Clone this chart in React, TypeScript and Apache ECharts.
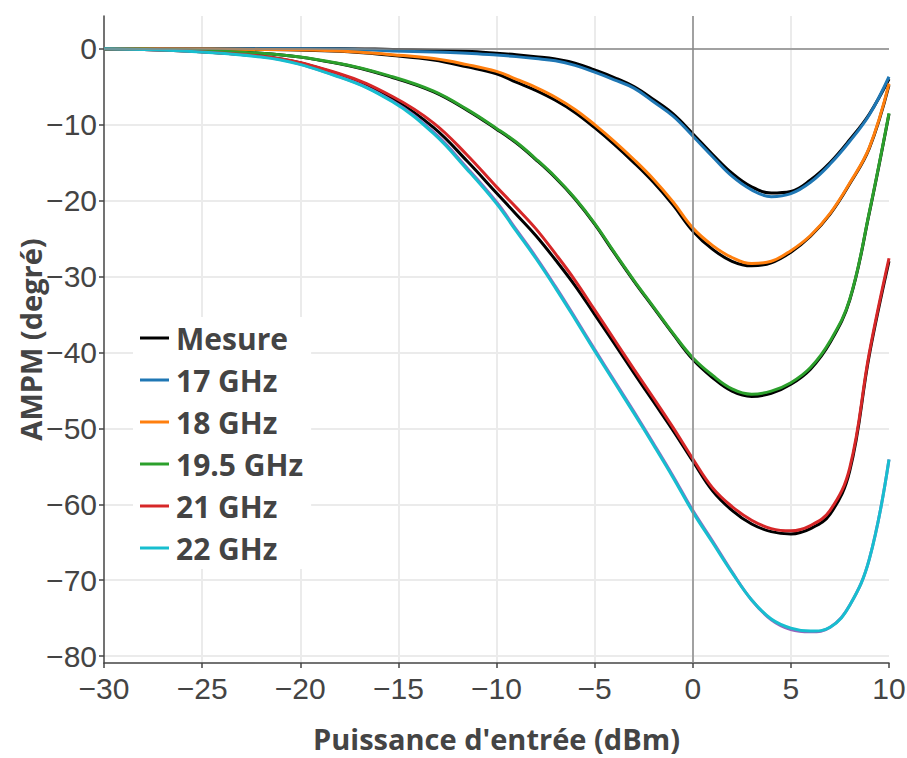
import React, { useEffect, useRef } from "react";
import * as echarts from "echarts";

const xValues = [-30, -22, -18, -15.3, -13.2, -11.5, -10, -9, -8, -7, -6, -5, -4, -3, -2, -1, 0, 1, 2, 3, 4, 5, 6, 7, 8, 9, 10];

const ghz17 = [0, 0, -0.05, -0.3, -0.45, -0.6, -0.85, -1.05, -1.3, -1.6, -2.2, -3.1, -4.1, -5.2, -7.0, -8.9, -11.5, -14.2, -16.8, -18.6, -19.5, -19.1, -17.6, -15.2, -12.2, -8.7, -3.7];
const ghz18 = [0, -0.1, -0.3, -0.8, -1.3, -2.1, -3.0, -4.0, -5.1, -6.4, -8.0, -10.0, -12.2, -14.6, -17.2, -20.2, -23.6, -25.9, -27.5, -28.3, -28.0, -26.6, -24.6, -21.7, -17.7, -13.0, -4.6];
const ghz195 = [0, -0.6, -1.95, -3.7, -5.6, -8.0, -10.5, -12.3, -14.5, -16.9, -19.7, -23.0, -26.8, -30.5, -34.0, -37.5, -40.7, -43.0, -44.8, -45.5, -45.1, -44.0, -42.0, -38.5, -33.0, -21.5, -8.5];
const ghz21 = [0, -1.0, -3.3, -6.3, -9.8, -14.0, -18.2, -20.9, -23.7, -27.0, -30.5, -34.4, -38.3, -42.2, -46.0, -49.9, -54.0, -57.8, -60.3, -62.1, -63.2, -63.5, -62.8, -60.8, -55.2, -40.0, -27.6];
const ghz22 = [0, -1.1, -3.75, -7.0, -11.2, -15.9, -20.4, -24.0, -27.6, -31.5, -35.6, -39.8, -43.9, -48.0, -52.2, -56.5, -61.0, -65.0, -69.0, -72.6, -75.1, -76.3, -76.7, -76.2, -73.3, -67.2, -54.1];

const mes17 = [0, 0, 0, -0.1, -0.2, -0.35, -0.6, -0.8, -1.05, -1.35, -1.9, -2.8, -3.8, -5.0, -6.7, -8.6, -11.2, -13.9, -16.4, -18.2, -19.0, -18.8, -17.3, -15.0, -12.0, -8.6, -4.0];
const mes18 = [0, -0.1, -0.35, -0.9, -1.5, -2.4, -3.3, -4.4, -5.5, -6.8, -8.4, -10.4, -12.6, -15.0, -17.6, -20.6, -24.0, -26.4, -28.0, -28.6, -28.2, -26.8, -24.7, -21.8, -17.8, -13.1, -4.8];
const mes195 = [0, -0.6, -2.0, -3.8, -5.7, -8.1, -10.6, -12.4, -14.6, -17.0, -19.8, -23.1, -26.9, -30.6, -34.1, -37.6, -40.9, -43.3, -45.1, -45.8, -45.4, -44.2, -42.2, -38.7, -33.1, -21.6, -8.6];
const mes21 = [0, -1.0, -3.4, -6.6, -10.4, -14.8, -19.0, -21.8, -24.6, -27.8, -31.2, -35.0, -38.8, -42.7, -46.5, -50.3, -54.3, -58.2, -60.8, -62.6, -63.6, -63.9, -63.2, -61.3, -55.6, -40.3, -28.0];
const mes22 = [0, -1.05, -3.7, -6.9, -11.0, -15.7, -20.2, -23.8, -27.4, -31.3, -35.4, -39.6, -43.7, -47.8, -52.0, -56.3, -60.8, -64.8, -68.9, -72.6, -75.2, -76.5, -76.8, -76.2, -73.3, -67.2, -54.1];

const legendNames = ["Mesure", "17 GHz", "18 GHz", "19.5 GHz", "21 GHz", "22 GHz"];
const xTitle = "Puissance d'entrée (dBm)";
const yTitle = "AMPM (degré)";

const pair = (ys: number[]) => xValues.map((x, i) => [x, ys[i]]);
const minus = (v: number) => (v < 0 ? "\u2212" + Math.abs(v) : String(v));

export default function App() {
  const ref = useRef<HTMLDivElement>(null);
  useEffect(() => {
    if (!ref.current) return;
    const chart = echarts.init(ref.current, null, { renderer: "svg" });
    const lineSeries = (name: string, ys: number[], color: string) => ({
      type: "line",
      name,
      data: pair(ys),
      showSymbol: false,
      symbol: "none",
      smooth: 0.4,
      lineStyle: { color, width: 3 },
      itemStyle: { color },
      silent: true,
    });
    const textColor = "#444";
    chart.setOption({
      animation: false,
      backgroundColor: "#fff",
      grid: { left: 104, right: 18, top: 16, bottom: 95, containLabel: false, outerBoundsMode: "none" },
      legend: {
        data: legendNames,
        orient: "vertical",
        left: 133,
        top: 317,
        padding: [6, 8, 6, 7],
        itemWidth: 29,
        itemHeight: 3,
        itemGap: 12,
        icon: "rect",
        backgroundColor: "#fff",
        textStyle: {
          fontFamily: "Open Sans",
          fontWeight: "bold",
          fontSize: 30,
          color: textColor,
          lineHeight: 28,
          padding: [0, 0, 0, 2],
        },
      },
      xAxis: {
        type: "value",
        min: -30,
        max: 10,
        interval: 5,
        name: xTitle,
        nameLocation: "middle",
        nameGap: 60,
        nameTextStyle: { fontFamily: "Open Sans", fontWeight: "bold", fontSize: 29, lineHeight: 30, color: textColor },
        axisLine: { onZero: false, lineStyle: { color: textColor, width: 1.5 } },
        axisTick: { show: true, length: 5, lineStyle: { color: textColor, width: 1.5 } },
        axisLabel: { formatter: minus, fontFamily: "Liberation Sans", fontSize: 30, color: textColor, margin: 10 },
        splitLine: { show: true, showMinLine: false, showMaxLine: false, lineStyle: { color: "#ebebeb", width: 2 } },
      },
      yAxis: {
        type: "value",
        min: -80.9,
        max: 4.3,
        splitNumber: 8,
        name: yTitle,
        nameLocation: "middle",
        nameGap: 59,
        nameRotate: 90,
        nameMoveOverlap: false,
        nameTextStyle: { fontFamily: "Open Sans", fontWeight: "bold", fontSize: 29, lineHeight: 30, color: textColor },
        axisLine: { onZero: false, lineStyle: { color: textColor, width: 1.5 } },
        axisTick: { show: true, length: 5, lineStyle: { color: textColor, width: 1.5 } },
        axisLabel: {
          formatter: minus,
          fontFamily: "Liberation Sans",
          fontSize: 30,
          color: textColor,
          margin: 7,
          showMinLabel: false,
          showMaxLabel: false,
        },
        splitLine: { show: true, showMinLine: false, showMaxLine: false, lineStyle: { color: "#ebebeb", width: 2 } },
      },
      series: [
        {
          type: "line",
          name: "zero",
          data: [],
          silent: true,
          markLine: {
            silent: true,
            symbol: "none",
            label: { show: false },
            lineStyle: { color: "#888", width: 1.5, type: "solid" },
            data: [{ xAxis: 0 }, { yAxis: 0 }],
          },
        },
        lineSeries("Mesure", mes17, "#000"),
        lineSeries("Mesure", mes18, "#000"),
        lineSeries("Mesure", mes195, "#000"),
        lineSeries("Mesure", mes21, "#000"),
        lineSeries("Mesure 22", mes22, "#9467bd"),
        lineSeries("17 GHz", ghz17, "#1f77b4"),
        lineSeries("18 GHz", ghz18, "#ff7f0e"),
        lineSeries("19.5 GHz", ghz195, "#2ca02c"),
        lineSeries("21 GHz", ghz21, "#d62728"),
        lineSeries("22 GHz", ghz22, "#17becf"),
      ],
    });
    return () => chart.dispose();
  }, []);
  return <div ref={ref} style={{ width: 907, height: 758, position: "absolute", left: 0, top: 0 }} />;
}
